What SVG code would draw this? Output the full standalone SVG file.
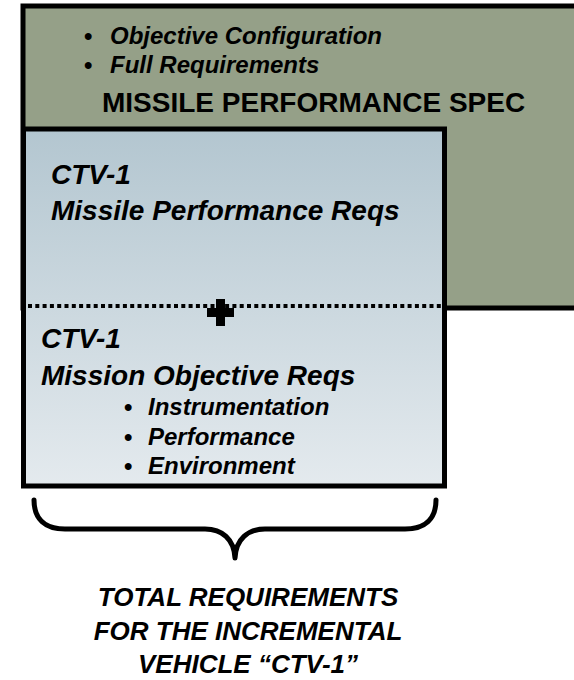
<svg xmlns="http://www.w3.org/2000/svg" width="574" height="680" viewBox="0 0 574 680">
  <defs>
    <linearGradient id="blueGrad" x1="0" y1="0" x2="0" y2="1">
      <stop offset="0" stop-color="#b3c6d0"/>
      <stop offset="1" stop-color="#e4eaee"/>
    </linearGradient>
    <style>
      text { font-family: "Liberation Sans", Arial, sans-serif; fill: #000; font-weight: bold; }
      .it { font-style: italic; }
      .b24 { font-size: 24px; }
      .h28 { font-size: 28px; }
      .t26 { font-size: 26px; font-style: italic; text-anchor: middle; }
      .box { stroke: #000; stroke-width: 5; }
    </style>
  </defs>
  <rect x="0" y="0" width="574" height="680" fill="#ffffff"/>

  <g id="missile-performance-spec">
    <rect class="box" x="23" y="6" width="600" height="302" fill="#95a088"/>
    <text class="b24" x="84" y="44">•</text>
    <text class="b24 it" x="110" y="44">Objective Configuration</text>
    <text class="b24" x="84" y="72.5">•</text>
    <text class="b24 it" x="110" y="72.5">Full Requirements</text>
    <text class="h28" x="102" y="112">MISSILE PERFORMANCE SPEC</text>
  </g>

  <g id="ctv1-requirements">
    <rect class="box" x="23.5" y="129" width="421" height="357" fill="url(#blueGrad)"/>
    <text class="h28 it" x="51" y="184">CTV-1</text>
    <text class="h28 it" x="51" y="220">Missile Performance Reqs</text>
    <line x1="28" y1="306" x2="442" y2="306" stroke="#000" stroke-width="4" stroke-dasharray="4 3.3"/>
    <path d="M216 299 H225 V308 H234 V317 H225 V326 H216 V317 H207 V308 H216 Z" fill="#000"/>
    <text class="h28 it" x="41" y="348">CTV-1</text>
    <text class="h28 it" x="41" y="385">Mission Objective Reqs</text>
    <text class="b24" x="124" y="415">•</text>
    <text class="b24 it" x="148" y="415">Instrumentation</text>
    <text class="b24" x="124" y="445">•</text>
    <text class="b24 it" x="148" y="445">Performance</text>
    <text class="b24" x="124" y="474">•</text>
    <text class="b24 it" x="148" y="474">Environment</text>
  </g>

  <g id="connectors">
    <path d="M34 500 C34 519 45 529 65 529 L205 529 C222 529 234 539 235 558 C236 539 248 529 265 529 L405 529 C425 529 436 519 436 500" fill="none" stroke="#000" stroke-width="5" stroke-linecap="round" stroke-linejoin="round"/>
  </g>

  <g id="total-requirements-label">
    <text class="t26" x="248" y="606">TOTAL REQUIREMENTS</text>
    <text class="t26" x="248" y="640">FOR THE INCREMENTAL</text>
    <text class="t26" x="248" y="673">VEHICLE “CTV-1”</text>
  </g>
</svg>
